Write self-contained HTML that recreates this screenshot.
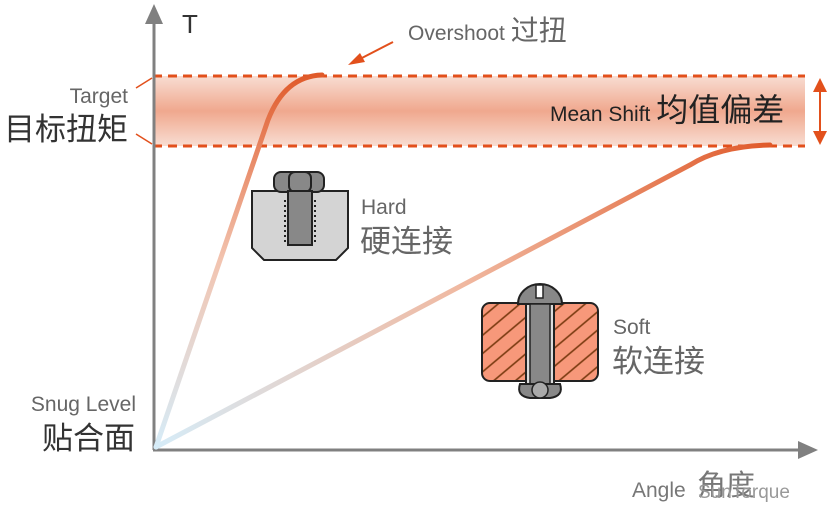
<!DOCTYPE html>
<html><head><meta charset="utf-8"><style>
body{margin:0;background:#fff}
svg{display:block}
text{font-family:"Liberation Sans","Noto Sans CJK SC",sans-serif}
</style></head><body>
<svg width="828" height="530" viewBox="0 0 828 530" xmlns="http://www.w3.org/2000/svg">
<defs>
<linearGradient id="band" x1="0" y1="0" x2="0" y2="1">
<stop offset="0" stop-color="#f8ddd2"/><stop offset="0.5" stop-color="#f0a88e"/><stop offset="1" stop-color="#f8ddd2"/>
</linearGradient>
<linearGradient id="hg" x1="0" y1="1" x2="0" y2="0">
<stop offset="0" stop-color="#d6ecf8"/><stop offset="0.5" stop-color="#f2c4b0"/><stop offset="1" stop-color="#e05a2a"/>
</linearGradient>
<linearGradient id="sg" x1="0" y1="0" x2="1" y2="0">
<stop offset="0" stop-color="#d6ecf8"/><stop offset="0.5" stop-color="#f0b8a0"/><stop offset="1" stop-color="#e05a2a"/>
</linearGradient>
<pattern id="hatch" width="14" height="14" patternUnits="userSpaceOnUse" patternTransform="rotate(-40)">
<rect width="14" height="14" fill="#f7987a"/><line x1="0" y1="7" x2="14" y2="7" stroke="#7a3a10" stroke-width="1.6"/>
</pattern>
</defs>
<rect x="153" y="76" width="652" height="70" fill="url(#band)"/>
<line x1="153" y1="76" x2="805" y2="76" stroke="#e2501c" stroke-width="3" stroke-dasharray="9,6"/>
<line x1="153" y1="146" x2="805" y2="146" stroke="#e2501c" stroke-width="3" stroke-dasharray="9,6"/>
<line x1="136" y1="88" x2="152" y2="78" stroke="#e2501c" stroke-width="1.5"/>
<line x1="136" y1="134" x2="152" y2="144" stroke="#e2501c" stroke-width="1.5"/>
<line x1="154" y1="450" x2="154" y2="20" stroke="#808080" stroke-width="3"/>
<polygon points="154,4 145,24 163,24" fill="#808080"/>
<line x1="153" y1="450" x2="800" y2="450" stroke="#808080" stroke-width="3"/>
<polygon points="818,450 798,441 798,459" fill="#808080"/>
<path d="M156,447 L268,120 Q285,76 322,75" fill="none" stroke="url(#hg)" stroke-width="5" stroke-linecap="round"/>
<path d="M156,447 L690,165 Q720,146 770,145" fill="none" stroke="url(#sg)" stroke-width="5" stroke-linecap="round"/>
<line x1="393" y1="42" x2="358" y2="60" stroke="#e2501c" stroke-width="2"/>
<polygon points="348,65 360,53 365,62" fill="#e2501c"/>
<line x1="820" y1="88" x2="820" y2="134" stroke="#e2501c" stroke-width="2"/>
<polygon points="820,78 813,92 827,92" fill="#e2501c"/>
<polygon points="820,145 813,131 827,131" fill="#e2501c"/>
<path d="M252,191 L348,191 L348,248 L336,260 L264,260 L252,248 Z" fill="#d4d4d4" stroke="#222" stroke-width="2"/>
<rect x="274" y="172" width="50" height="20" rx="7" fill="#888" stroke="#222" stroke-width="2"/>
<rect x="289" y="172" width="22" height="20" rx="6" fill="#888" stroke="#222" stroke-width="2"/>
<rect x="288" y="191" width="24" height="54" fill="#888" stroke="#222" stroke-width="2"/>
<line x1="285" y1="200" x2="285" y2="244" stroke="#222" stroke-width="2" stroke-dasharray="2,3"/>
<line x1="315" y1="200" x2="315" y2="244" stroke="#222" stroke-width="2" stroke-dasharray="2,3"/>
<text x="361" y="214" font-size="21" fill="#666">Hard</text>
<text x="360" y="252" font-size="31" fill="#666">硬连接</text>
<rect x="482" y="303" width="116" height="78" rx="8" fill="url(#hatch)" stroke="#222" stroke-width="2"/>
<path d="M518,304 A22,20 0 0 1 562,304 Z" fill="#888" stroke="#222" stroke-width="2"/>
<rect x="536" y="285" width="7" height="13" fill="#fff" stroke="#222" stroke-width="1.5"/>
<rect x="526" y="304" width="28" height="80" fill="#ddd" stroke="#222" stroke-width="2"/>
<rect x="530" y="304" width="20" height="80" fill="#888" stroke="#222" stroke-width="1.5"/>
<path d="M520,384 L560,384 Q564,396 550,398 L530,398 Q516,396 520,384 Z" fill="#888" stroke="#222" stroke-width="2"/>
<circle cx="540" cy="390" r="8" fill="#aaa" stroke="#222" stroke-width="1.5"/>
<text x="613" y="334" font-size="21" fill="#666">Soft</text>
<text x="612" y="372" font-size="31" fill="#666">软连接</text>
<text x="182" y="33" font-size="26" fill="#333">T</text>
<text x="408" y="40" font-size="21" fill="#666">Overshoot <tspan font-size="28">过扭</tspan></text>
<text x="128" y="103" font-size="21" fill="#666" text-anchor="end">Target</text>
<text x="128" y="140" font-size="31" fill="#333" text-anchor="end">目标扭矩</text>
<text x="550" y="121" font-size="21" fill="#222">Mean Shift <tspan font-size="32">均值偏差</tspan></text>
<text x="136" y="411" font-size="21" fill="#666" text-anchor="end">Snug Level</text>
<text x="135" y="449" font-size="31" fill="#333" text-anchor="end">贴合面</text>
<text x="632" y="497" font-size="21" fill="#777">Angle</text>
<text x="697" y="495" font-size="29" fill="#777">角度</text>
<text x="698" y="498" font-size="19" fill="#999">SunTorque</text>
</svg>
</body></html>
